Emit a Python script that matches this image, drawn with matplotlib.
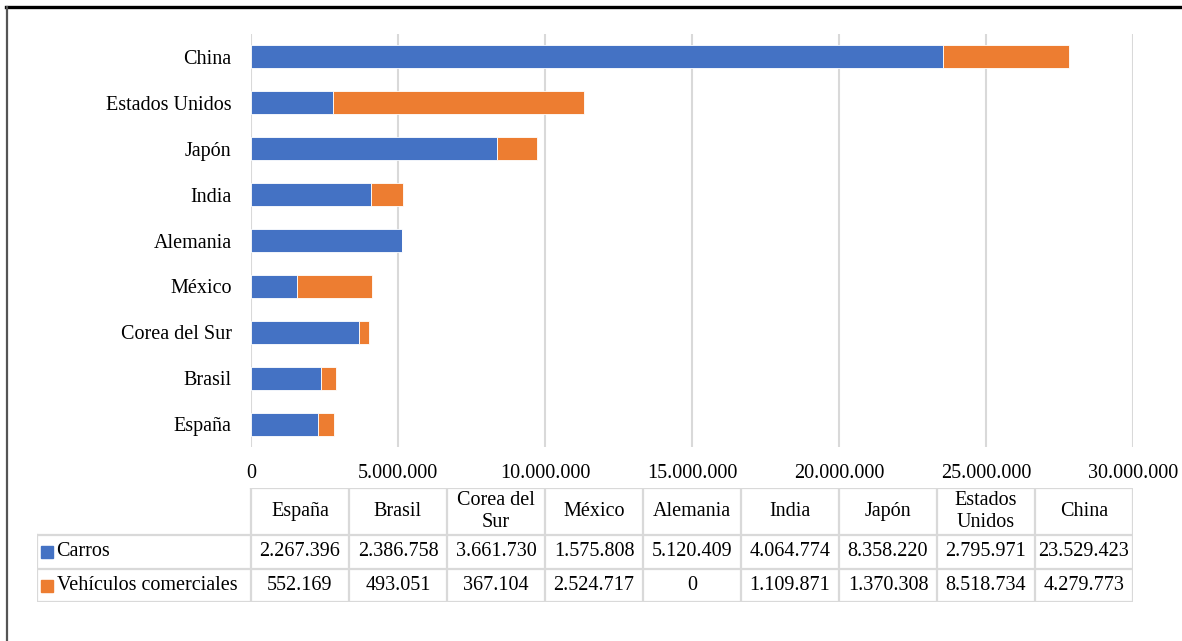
import matplotlib
matplotlib.use('Agg')
import matplotlib.pyplot as plt
from matplotlib.lines import Line2D

plt.rcParams['font.family'] = ['Liberation Serif', 'DejaVu Serif']

paises = ['España', 'Brasil', 'Corea del Sur', 'México', 'Alemania',
          'India', 'Japón', 'Estados Unidos', 'China']
cabecera = ['España', 'Brasil', 'Corea del\nSur', 'México', 'Alemania',
            'India', 'Japón', 'Estados\nUnidos', 'China']
carros = [2267396, 2386758, 3661730, 1575808, 5120409,
          4064774, 8358220, 2795971, 23529423]
comerciales = [552169, 493051, 367104, 2524717, 0,
               1109871, 1370308, 8518734, 4279773]
series = ['Carros', 'Vehículos comerciales']
colores = ['#4472C4', '#ED7D31']
ticks = [0, 5000000, 10000000, 15000000, 20000000, 25000000, 30000000]


def miles(v):
    return f'{v:,}'.replace(',', '.')


fs = 14.5
grid_c = '#d9d9d9'

fig = plt.figure(figsize=(11.82, 6.41), dpi=100)
ax = fig.add_axes([251/1182, 1-447/641, 882/1182, 413/641])

y = range(len(paises))
ax.barh(y, carros, height=0.5, color=colores[0], edgecolor='white', linewidth=0.6)
ax.barh(y, comerciales, left=carros, height=0.5, color=colores[1],
        edgecolor='white', linewidth=0.6)
ax.set_ylim(-0.5, len(paises) - 0.5)
ax.set_xlim(0, 30000000)
ax.set_yticks(list(y))
ax.set_yticklabels(paises, fontsize=fs)
ax.set_xticks(ticks)
ax.set_xticklabels([miles(t) for t in ticks], fontsize=fs)
ax.tick_params(axis='both', length=0)
ax.tick_params(axis='y', pad=14)
ax.tick_params(axis='x', pad=12)
ax.grid(axis='x', color=grid_c, linewidth=1.5)
ax.set_axisbelow(True)
for s in ax.spines.values():
    s.set_visible(False)

# tabla de datos
tb = fig.add_axes([37/1182, 1-602/641, (1133-37)/1182, 114/641])
lab_w = (251 - 37) / 98
n = len(paises)
tb.set_xlim(-lab_w, n)
tb.set_ylim(0, 114)
tb.axis('off')
filas = [0, 33, 67, 114]
lw = 1.6
# lineas horizontales
tb.plot([0, n], [filas[3], filas[3]], color=grid_c, lw=lw)
for f in filas[:3]:
    tb.plot([-lab_w, n], [f, f], color=grid_c, lw=lw)
# lineas verticales
for i in range(n + 1):
    tb.plot([i, i], [0, filas[3]], color=grid_c, lw=lw)
tb.plot([-lab_w, -lab_w], [0, filas[2]], color=grid_c, lw=lw)

for i in range(n):
    tb.text(i + 0.5, (filas[2] + filas[3]) / 2, cabecera[i], ha='center',
            va='center', fontsize=fs, linespacing=1.25)
    tb.text(i + 0.5, (filas[1] + filas[2]) / 2, miles(carros[i]),
            ha='center', va='center', fontsize=fs)
    tb.text(i + 0.5, (filas[0] + filas[1]) / 2, miles(comerciales[i]),
            ha='center', va='center', fontsize=fs)

for k, (nom, c) in enumerate(zip(series, colores)):
    yc = (filas[1 - k] + filas[2 - k]) / 2
    tb.plot([-lab_w + 0.1], [yc], marker='s', ms=9, color=c, ls='none')
    tb.text(-lab_w + 0.2, yc, nom, ha='left', va='center', fontsize=fs)

# marco
fig.add_artist(Line2D([6/1182, 1], [1-6.5/641, 1-6.5/641], color='black', lw=2.4))
fig.add_artist(Line2D([6.5/1182, 6.5/1182], [0, 1-6.5/641], color='#555555', lw=1.6))

fig.savefig('out.png', dpi=100)
